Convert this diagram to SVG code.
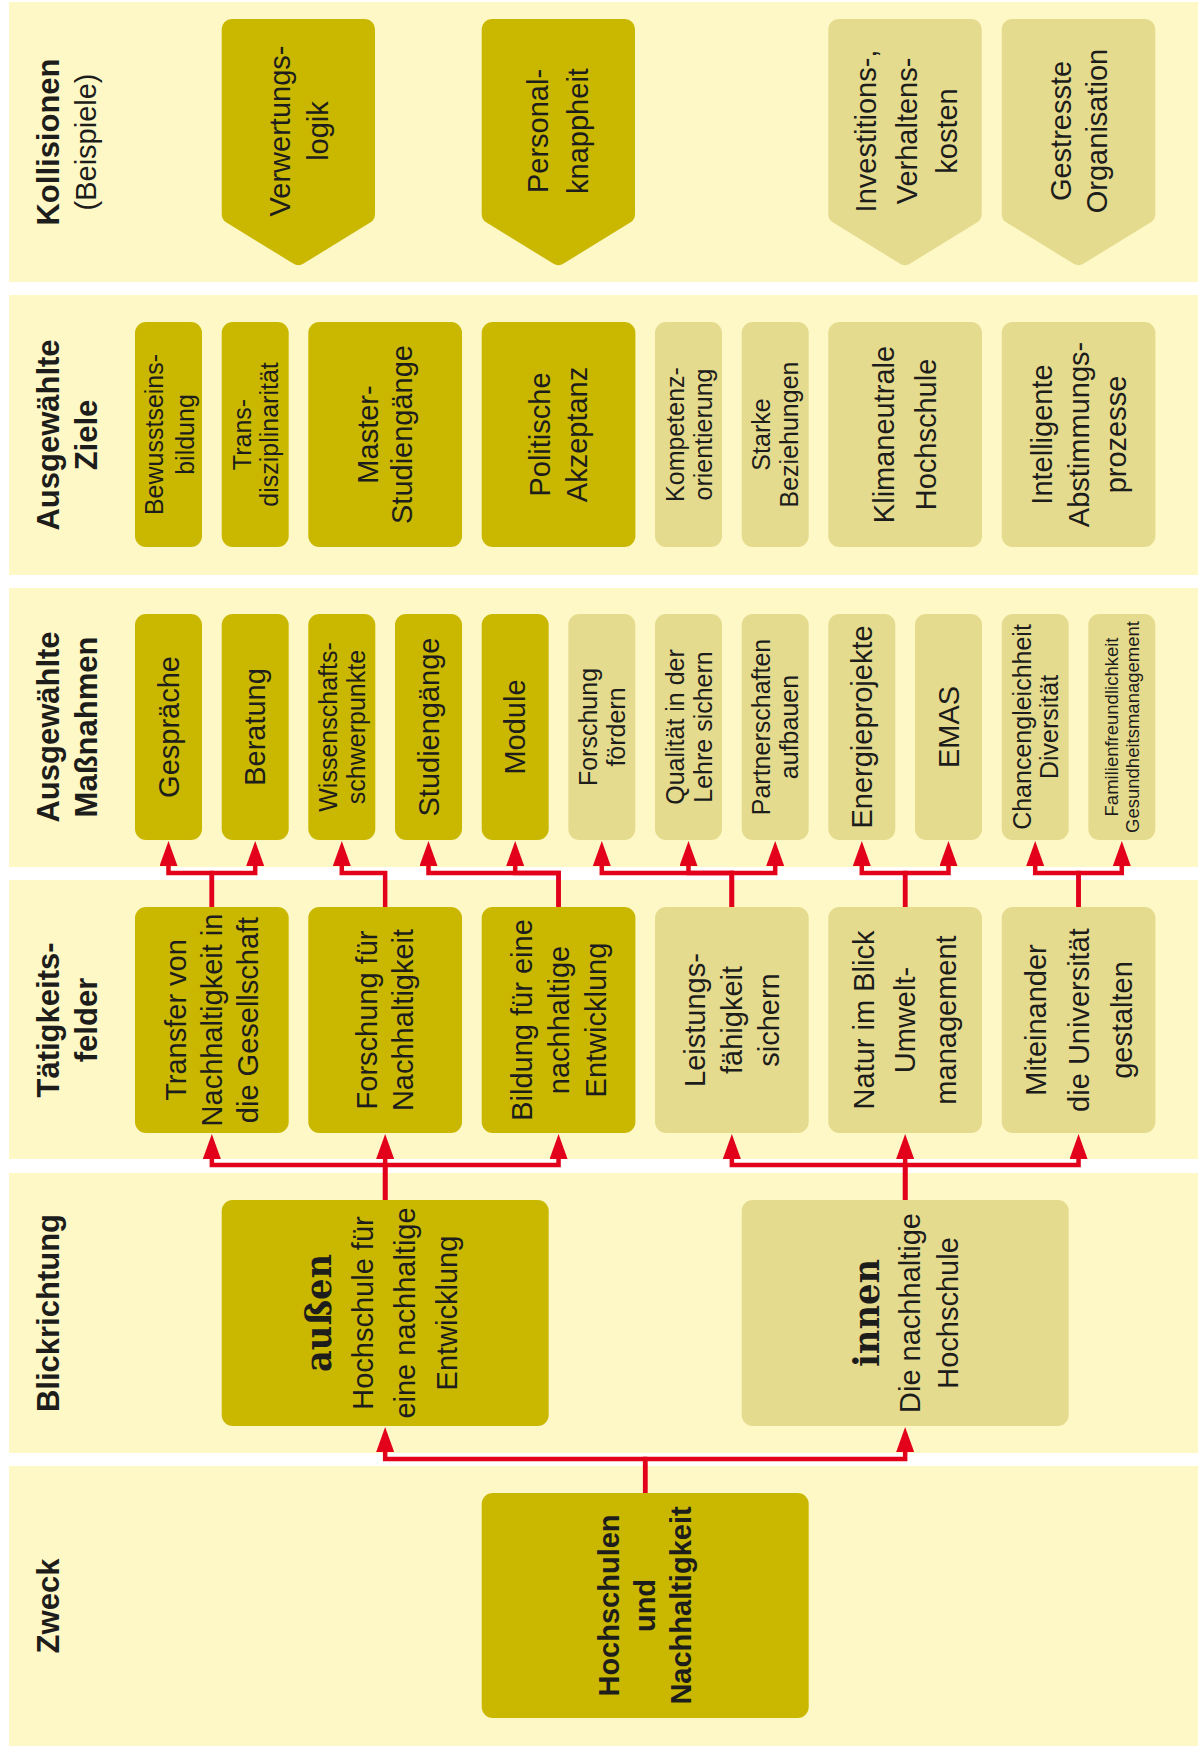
<svg xmlns="http://www.w3.org/2000/svg" width="1198" height="1751" viewBox="0 0 1198 1751">
<style>
.band{fill:#FEF8C7}
.dk{fill:#CAB800}
.lt{fill:#E5DB8E}
.chd{fill:#CAB800;stroke:#CAB800;stroke-width:20;stroke-linejoin:round}
.chl{fill:#E5DB8E;stroke:#E5DB8E;stroke-width:20;stroke-linejoin:round}
text{font-family:'Liberation Sans',Arial,sans-serif;fill:#1D1D1B;text-anchor:middle;font-size:29px}
.s{font-size:25px}
.xs{font-size:18.5px}
.h{font-weight:bold;font-size:31px}
.hr{font-size:29px}
.b{font-weight:bold}
.sl{font-family:'DejaVu Serif',serif;font-weight:bold;font-size:35px}
.con{stroke:#E2001A;stroke-width:4.5;fill:none;marker-end:url(#ah)}
</style>
<defs>
<marker id="ah" markerUnits="userSpaceOnUse" markerWidth="26" markerHeight="18" viewBox="0 0 26 18" refX="1" refY="9" orient="auto">
<path d="M0,0 L25,9 L0,18 z" fill="#E2001A"/>
</marker>
</defs>
<rect width="1198" height="1751" fill="#FFFFFF"/>
<g id="bands">
<rect class="band" x="9" y="2" width="1189" height="280"/>
<rect class="band" x="9" y="295" width="1189" height="280"/>
<rect class="band" x="9" y="588" width="1189" height="279"/>
<rect class="band" x="9" y="880" width="1189" height="279"/>
<rect class="band" x="9" y="1173" width="1189" height="280"/>
<rect class="band" x="9" y="1466" width="1189" height="280"/>
</g>
<g id="headers">
<g transform="translate(0,142) rotate(-90)"><text class="h" x="0" y="59">Kollisionen</text><text class="hr" x="0" y="96">(Beispiele)</text></g>
<g transform="translate(0,435) rotate(-90)"><text class="h" x="0" y="59">Ausgewählte</text><text class="h" x="0" y="97">Ziele</text></g>
<g transform="translate(0,727) rotate(-90)"><text class="h" x="0" y="59">Ausgewählte</text><text class="h" x="0" y="97">Maßnahmen</text></g>
<g transform="translate(0,1020) rotate(-90)"><text class="h" x="0" y="59">Tätigkeits-</text><text class="h" x="0" y="97">felder</text></g>
<g transform="translate(0,1313) rotate(-90)"><text class="h" x="0" y="59">Blickrichtung</text></g>
<g transform="translate(0,1606) rotate(-90)"><text class="h" x="0" y="59">Zweck</text></g>
</g>
<g id="connectors">
<path class="con" d="M211.85,907 V873 H168.5 V865"/>
<path class="con" d="M211.85,907 V873 H255.2 V865"/>
<path class="con" d="M385.15,907 V873 H341.8 V865"/>
<path class="con" d="M558.55,907 V873 H428.5 V865"/>
<path class="con" d="M558.55,907 V873 H515.2 V865"/>
<path class="con" d="M731.85,907 V873 H601.8 V865"/>
<path class="con" d="M731.85,907 V873 H688.5 V865"/>
<path class="con" d="M731.85,907 V873 H775.2 V865"/>
<path class="con" d="M905.15,907 V873 H861.8 V865"/>
<path class="con" d="M905.15,907 V873 H948.5 V865"/>
<path class="con" d="M1078.55,907 V873 H1035.2 V865"/>
<path class="con" d="M1078.55,907 V873 H1121.8 V865"/>
<path class="con" d="M385.15,1200 V1165 H211.85 V1158"/>
<path class="con" d="M385.15,1200 V1158"/>
<path class="con" d="M385.15,1200 V1165 H558.55 V1158"/>
<path class="con" d="M905.15,1200 V1165 H731.85 V1158"/>
<path class="con" d="M905.15,1200 V1158"/>
<path class="con" d="M905.15,1200 V1165 H1078.55 V1158"/>
<path class="con" d="M645.2,1493 V1459 H385.15 V1451"/>
<path class="con" d="M645.2,1493 V1459 H905.15 V1451"/>
</g>
<!-- Kollisionen -->
<g id="k-verwertung"><polygon class="chd" points="231.7,29 365,29 365,214 298.4,255 231.7,214"/><g transform="translate(298.4,131) rotate(-90)"><text x="0" y="-8">Verwertungs-</text><text x="0" y="30">logik</text></g></g>
<g id="k-personal"><polygon class="chd" points="491.7,29 625,29 625,214 558.4,255 491.7,214"/><g transform="translate(558.4,131) rotate(-90)"><text x="0" y="-10">Personal-</text><text x="0" y="30">knappheit</text></g></g>
<g id="k-investitions"><polygon class="chl" points="838.3,29 971.7,29 971.7,214 905,255 838.3,214"/><g transform="translate(905,131) rotate(-90)"><text x="0" y="-29">Investitions-,</text><text x="0" y="12">Verhaltens-</text><text x="0" y="52">kosten</text></g></g>
<g id="k-gestresste"><polygon class="chl" points="1011.7,29 1145.3,29 1145.3,214 1078.5,255 1011.7,214"/><g transform="translate(1078.5,131) rotate(-90)"><text x="0" y="-8">Gestresste</text><text x="0" y="28">Organisation</text></g></g>
<!-- Ziele -->
<g id="z-bewusstsein"><rect class="dk" x="135" y="322" width="67" height="225" rx="11"/><g transform="translate(168.5,434.5) rotate(-90)"><text class="s" x="0" y="-6">Bewusstseins-</text><text class="s" x="0" y="25">bildung</text></g></g>
<g id="z-trans"><rect class="dk" x="221.7" y="322" width="67" height="225" rx="11"/><g transform="translate(255.2,434.5) rotate(-90)"><text class="s" x="0" y="-4">Trans-</text><text class="s" x="0" y="23">disziplinarität</text></g></g>
<g id="z-master"><rect class="dk" x="308.3" y="322" width="153.7" height="225" rx="11"/><g transform="translate(385.15,434.5) rotate(-90)"><text x="0" y="-7">Master-</text><text x="0" y="27">Studiengänge</text></g></g>
<g id="z-politische"><rect class="dk" x="481.7" y="322" width="153.7" height="225" rx="11"/><g transform="translate(558.55,434.5) rotate(-90)"><text x="0" y="-9">Politische</text><text x="0" y="28">Akzeptanz</text></g></g>
<g id="z-kompetenz"><rect class="lt" x="655" y="322" width="67" height="225" rx="11"/><g transform="translate(688.5,434.5) rotate(-90)"><text class="s" x="0" y="-5">Kompetenz-</text><text class="s" x="0" y="23">orientierung</text></g></g>
<g id="z-starke"><rect class="lt" x="741.7" y="322" width="67" height="225" rx="11"/><g transform="translate(775.2,434.5) rotate(-90)"><text class="s" x="0" y="-5">Starke</text><text class="s" x="0" y="23">Beziehungen</text></g></g>
<g id="z-klima"><rect class="lt" x="828.3" y="322" width="153.7" height="225" rx="11"/><g transform="translate(905.15,434.5) rotate(-90)"><text x="0" y="-11">Klimaneutrale</text><text x="0" y="31">Hochschule</text></g></g>
<g id="z-intelligente"><rect class="lt" x="1001.7" y="322" width="153.7" height="225" rx="11"/><g transform="translate(1078.55,434.5) rotate(-90)"><text x="0" y="-27">Intelligente</text><text x="0" y="10">Abstimmungs-</text><text x="0" y="47">prozesse</text></g></g>
<!-- Massnahmen -->
<g id="m-gespraeche"><rect class="dk" x="135" y="614" width="67" height="226" rx="11"/><g transform="translate(168.5,727) rotate(-90)"><text x="0" y="10">Gespräche</text></g></g>
<g id="m-beratung"><rect class="dk" x="221.7" y="614" width="67" height="226" rx="11"/><g transform="translate(255.2,727) rotate(-90)"><text x="0" y="10">Beratung</text></g></g>
<g id="m-wissenschaft"><rect class="dk" x="308.3" y="614" width="67" height="226" rx="11"/><g transform="translate(341.8,727) rotate(-90)"><text class="s" x="0" y="-5">Wissenschafts-</text><text class="s" x="0" y="23">schwerpunkte</text></g></g>
<g id="m-studiengaenge"><rect class="dk" x="395" y="614" width="67" height="226" rx="11"/><g transform="translate(428.5,727) rotate(-90)"><text x="0" y="10">Studiengänge</text></g></g>
<g id="m-module"><rect class="dk" x="481.7" y="614" width="67" height="226" rx="11"/><g transform="translate(515.2,727) rotate(-90)"><text x="0" y="10">Module</text></g></g>
<g id="m-forschung"><rect class="lt" x="568.3" y="614" width="67" height="226" rx="11"/><g transform="translate(601.8,727) rotate(-90)"><text class="s" x="0" y="-5">Forschung</text><text class="s" x="0" y="23">fördern</text></g></g>
<g id="m-qualitaet"><rect class="lt" x="655" y="614" width="67" height="226" rx="11"/><g transform="translate(688.5,727) rotate(-90)"><text class="s" x="0" y="-5">Qualität in der</text><text class="s" x="0" y="23">Lehre sichern</text></g></g>
<g id="m-partnerschaften"><rect class="lt" x="741.7" y="614" width="67" height="226" rx="11"/><g transform="translate(775.2,727) rotate(-90)"><text class="s" x="0" y="-5">Partnerschaften</text><text class="s" x="0" y="23">aufbauen</text></g></g>
<g id="m-energie"><rect class="lt" x="828.3" y="614" width="67" height="226" rx="11"/><g transform="translate(861.8,727) rotate(-90)"><text x="0" y="10">Energieprojekte</text></g></g>
<g id="m-emas"><rect class="lt" x="915" y="614" width="67" height="226" rx="11"/><g transform="translate(948.5,727) rotate(-90)"><text x="0" y="10">EMAS</text></g></g>
<g id="m-chancen"><rect class="lt" x="1001.7" y="614" width="67" height="226" rx="11"/><g transform="translate(1035.2,727) rotate(-90)"><text class="s" x="0" y="-4">Chancengleichheit</text><text class="s" x="0" y="23">Diversität</text></g></g>
<g id="m-familie"><rect class="lt" x="1088.3" y="614" width="67" height="226" rx="11"/><g transform="translate(1121.8,727) rotate(-90)"><text class="xs" x="0" y="-4">Familienfreundlichkeit</text><text class="xs" x="0" y="17">Gesundheitsmanagement</text></g></g>
<!-- Taetigkeitsfelder -->
<g id="t-transfer"><rect class="dk" x="135" y="907" width="153.7" height="226" rx="11"/><g transform="translate(211.85,1020) rotate(-90)"><text x="0" y="-26">Transfer von</text><text x="0" y="10">Nachhaltigkeit in</text><text x="0" y="46">die Gesellschaft</text></g></g>
<g id="t-forschung"><rect class="dk" x="308.3" y="907" width="153.7" height="226" rx="11"/><g transform="translate(385.15,1020) rotate(-90)"><text x="0" y="-8">Forschung für</text><text x="0" y="28">Nachhaltigkeit</text></g></g>
<g id="t-bildung"><rect class="dk" x="481.7" y="907" width="153.7" height="226" rx="11"/><g transform="translate(558.55,1020) rotate(-90)"><text x="0" y="-27">Bildung für eine</text><text x="0" y="10">nachhaltige</text><text x="0" y="47">Entwicklung</text></g></g>
<g id="t-leistung"><rect class="lt" x="655" y="907" width="153.7" height="226" rx="11"/><g transform="translate(731.85,1020) rotate(-90)"><text x="0" y="-27">Leistungs-</text><text x="0" y="10">fähigkeit</text><text x="0" y="47">sichern</text></g></g>
<g id="t-natur"><rect class="lt" x="828.3" y="907" width="153.7" height="226" rx="11"/><g transform="translate(905.15,1020) rotate(-90)"><text x="0" y="-31">Natur im Blick</text><text x="0" y="10">Umwelt-</text><text x="0" y="51">management</text></g></g>
<g id="t-miteinander"><rect class="lt" x="1001.7" y="907" width="153.7" height="226" rx="11"/><g transform="translate(1078.55,1020) rotate(-90)"><text x="0" y="-33">Miteinander</text><text x="0" y="10">die Universität</text><text x="0" y="53">gestalten</text></g></g>
<!-- Blickrichtung -->
<g id="b-aussen"><rect class="dk" x="221.7" y="1200" width="327" height="226" rx="11"/><g transform="translate(385.15,1313) rotate(-90)"><text class="sl" x="0" y="-54" textLength="118" lengthAdjust="spacingAndGlyphs">außen</text><text x="0" y="-12">Hochschule für</text><text x="0" y="30">eine nachhaltige</text><text x="0" y="72">Entwicklung</text></g></g>
<g id="b-innen"><rect class="lt" x="741.7" y="1200" width="327" height="226" rx="11"/><g transform="translate(905.15,1313) rotate(-90)"><text class="sl" x="0" y="-26" textLength="108" lengthAdjust="spacingAndGlyphs">innen</text><text x="0" y="15">Die nachhaltige</text><text x="0" y="53">Hochschule</text></g></g>
<!-- Zweck -->
<g id="z-zweck"><rect class="dk" x="481.7" y="1493" width="327" height="225" rx="11"/><g transform="translate(645.2,1605.5) rotate(-90)"><text class="b" x="0" y="-26">Hochschulen</text><text class="b" x="0" y="10">und</text><text class="b" x="0" y="46">Nachhaltigkeit</text></g></g>
</svg>
